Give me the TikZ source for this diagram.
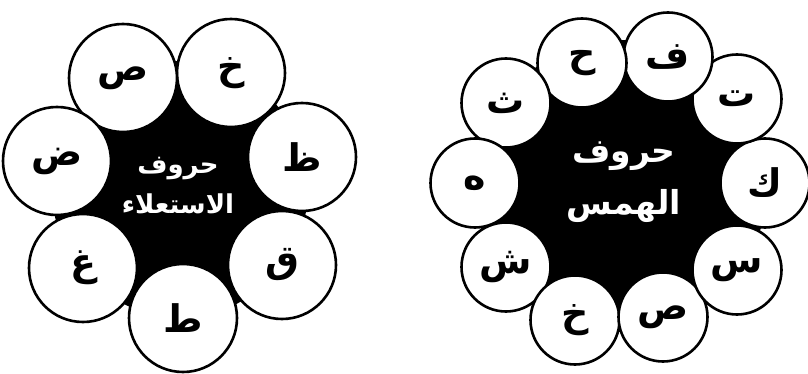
\documentclass[tikz,border=0pt]{standalone}
\usepackage{fontspec}
\TeXXeTstate=1
\newfontfamily\arabicfont[Script=Arabic]{DejaVu Sans}
\tikzset{
  disk/.style={circle, fill=black, inner sep=0pt},
  lettercirc/.style={circle, draw=black, line width=2.6pt, fill=white, inner sep=0pt,
    font=\arabicfont\bfseries\fontsize{38}{38}\selectfont},
  centertext/.style={text=white, align=center, font=\arabicfont\bfseries\fontsize{26}{40}\selectfont}
}
\newcommand{\ar}[1]{\beginR #1\endR}
\begin{document}
\begin{tikzpicture}[x=1pt,y=-1pt]
\useasboundingbox (0,0) rectangle (808,374);
% left cluster
\node[disk, minimum size=256pt] (DL) at (180,189) {};
\foreach \x/\y/\t [count=\i] in {302/157/ظ, 231/73/خ, 123/78/ص, 57/161/ض, 83/268/غ, 183/318/ط, 282/265/ق}{
  \node[lettercirc, minimum size=108pt] (L\i) at (\x,\y) {\ar{\t}};
}
\node[centertext] (TL) at (178,186) {\ar{حروف}\\\ar{الاستعلاء}};
% right cluster
\node[disk, minimum size=292pt] (DR) at (621,186) {};
\foreach \x/\y/\t [count=\i] in {765/183/ك, 737/99/ت, 668/57/ف, 582/63/ح, 506/103/ث, 475/183/ه, 506/267/ش, 575/320/خ, 663/317/ص, 737/270/س}{
  \node[lettercirc, minimum size=89pt] (R\i) at (\x,\y) {\ar{\t}};
}
\node[centertext, font=\arabicfont\bfseries\fontsize{33}{52}\selectfont] (TR) at (624,182) {\ar{حروف}\\\ar{الهمس}};
\end{tikzpicture}
\end{document}
